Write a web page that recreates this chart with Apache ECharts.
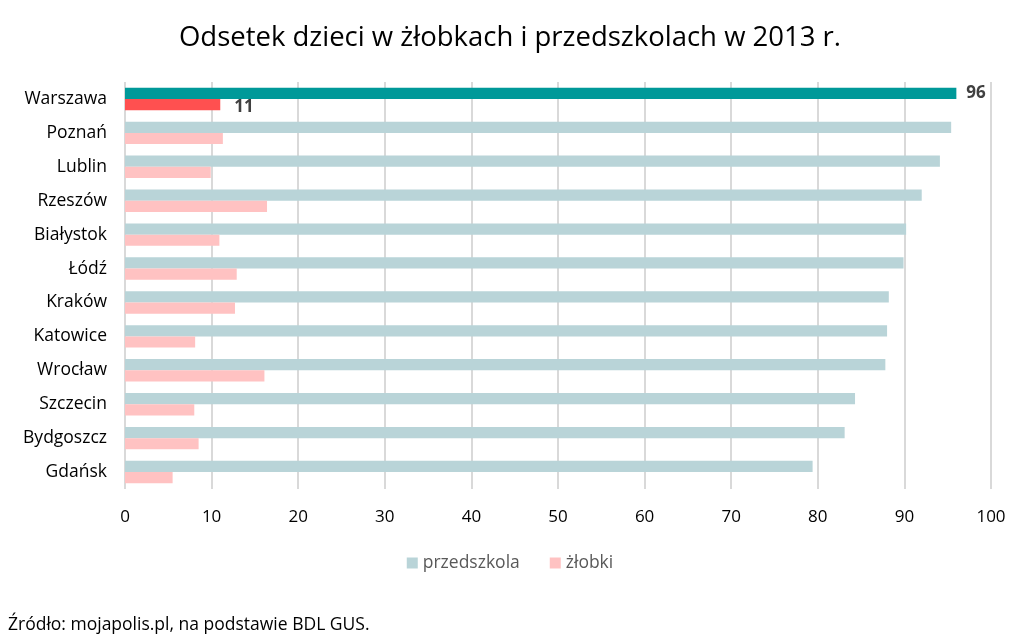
<!DOCTYPE html>
<html><head><meta charset="utf-8">
<script src="https://cdn.jsdelivr.net/npm/echarts@6/dist/echarts.min.js"></script>
<style>html,body{margin:0;padding:0;background:#fff}#c{width:1020px;height:643px}</style>
</head><body><div id="c"></div>
<script>
const categories = ["Warszawa","Poznań","Lublin","Rzeszów","Białystok","Łódź","Kraków","Katowice","Wrocław","Szczecin","Bydgoszcz","Gdańsk"];
const przedszkola = [96, 95.4, 94.1, 92.0, 90.2, 89.9, 88.2, 88.0, 87.8, 84.3, 83.1, 79.4];
const zlobki = [11, 11.3, 9.9, 16.4, 10.9, 12.9, 12.7, 8.1, 16.1, 8.0, 8.5, 5.5];
const xTicks = [0,10,20,30,40,50,60,70,80,90,100];
const FONT = "Open Sans";
const chart = echarts.init(document.getElementById('c'));
function build(values, hl, base, dist, off) {
  return values.map((v, i) => i === 0 ? {
    value: v,
    itemStyle: {color: hl},
    label: {show: true, position: 'right', distance: dist, offset: off, formatter: '{c}', fontWeight: 'bold', color: '#404040', fontSize: 17, fontFamily: FONT}
  } : {value: v, itemStyle: {color: base}});
}
chart.setOption({
  animation: false,
  title: {text: 'Odsetek dzieci w żłobkach i przedszkolach w 2013 r.', left: 'center', top: 19,
    textStyle: {fontFamily: FONT, fontSize: 27.5, fontWeight: 'normal', color: '#000'}},
  legend: {bottom: 66, left: 'center', itemWidth: 11, itemHeight: 11, itemGap: 30, icon: 'rect',
    textStyle: {fontFamily: FONT, fontSize: 17.5, color: '#595959'},
    data: [{name: 'przedszkola', itemStyle: {color: '#B9D4D8'}}, {name: 'żłobki', itemStyle: {color: '#FFC2C2'}}]},
  grid: {left: 125, right: 29, top: 82, bottom: 154},
  xAxis: {type: 'value', min: 0, max: 100, interval: 10,
    axisLine: {show: false}, axisTick: {show: false},
    splitLine: {show: true, lineStyle: {color: '#D9D9D9', width: 2}},
    axisLabel: {fontFamily: FONT, fontSize: 17, color: '#000', margin: 20,
      formatter: v => xTicks.includes(v) ? String(v) : ''}},
  yAxis: {type: 'category', data: categories, inverse: true,
    axisLine: {show: false}, axisTick: {show: false},
    axisLabel: {fontFamily: FONT, fontSize: 17.5, color: '#000', margin: 18}},
  series: [
    {name: 'przedszkola', type: 'bar', data: build(przedszkola, '#009999', '#B9D4D8', 10, [0, 0]), barGap: '0%', barCategoryGap: '34%', itemStyle: {color: '#B9D4D8'}},
    {name: 'żłobki', type: 'bar', data: build(zlobki, '#FF5050', '#FFC2C2', 14, [0, 3]), barGap: '0%', barCategoryGap: '34%', itemStyle: {color: '#FFC2C2'}}
  ],
  graphic: [{type: 'text', left: 8, top: 616, style: {text: 'Źródło: mojapolis.pl, na podstawie BDL GUS.', fontFamily: FONT, fontSize: 17.5, fill: '#000'}}]
});
</script></body></html>
